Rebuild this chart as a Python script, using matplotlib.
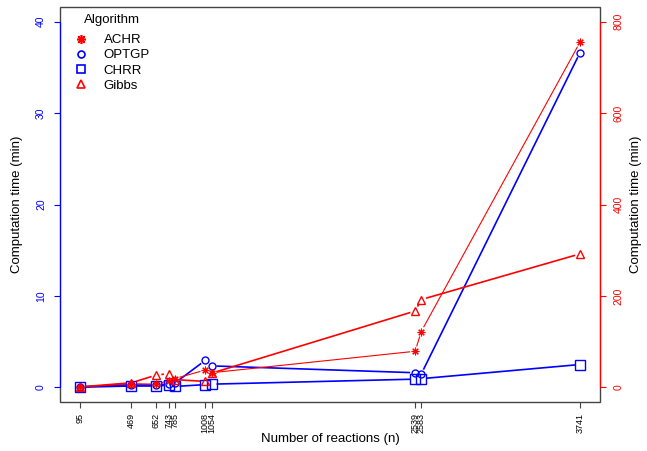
import numpy as np
import matplotlib
matplotlib.use("Agg")
import matplotlib.pyplot as plt
from matplotlib.lines import Line2D
from matplotlib.patches import Rectangle

plt.rcParams['font.family'] = ['Liberation Sans', 'DejaVu Sans']

# Number of reactions of each model (x axis).
reactions = [95, 469, 652, 743, 785, 1008, 1054, 2539, 2583, 3741]

# Computation times.
# OPTGP and CHRR on the left axis (min), ACHR and Gibbs on the right axis (min).
optgp = [0.05, 0.3, 0.3, 0.35, 0.45, 2.95, 2.35, 1.6, 1.45, 36.6]
chrr = [0.02, 0.15, 0.15, 0.25, 0.1, 0.3, 0.35, 0.9, 0.95, 2.5]
achr = [1, 8, 7, 15, 19, 38, 32, 79, 122, 755]
gibbs = [1, 10, 27, 30, 17, 13, 31, 167, 192, 292]

BLUE = "#0000ff"
RED = "#ff0000"


# R-style type="b": markers joined by lines that stop short of each marker.
def draw_b(ax, x, y, color, marker, size, lw, mew=1.0, gap=5.0):
    pts = ax.transData.transform(np.column_stack([x, y]))
    inv = ax.transData.inverted()
    for p, q in zip(pts[:-1], pts[1:]):
        d = q - p
        n = np.hypot(d[0], d[1])
        if n <= 2 * gap:
            continue
        u = d / n
        seg = inv.transform(np.array([p + u * gap, q - u * gap]))
        ax.plot(seg[:, 0], seg[:, 1], color=color, lw=lw, solid_capstyle='butt')
    ax.plot(x, y, ls='none', marker=marker, ms=size, mfc='none', mec=color, mew=mew)


fig = plt.figure(figsize=(6.47, 4.51), dpi=100)
ax = fig.add_axes([60 / 647, 1 - 402 / 451, 540 / 647, 395 / 451])
ax2 = ax.twinx()

ax.set_xlim(95 - 0.04 * (3741 - 95), 3741 + 0.04 * (3741 - 95))
ax.set_ylim(-1.6, 41.6)
ax2.set_ylim(-32, 832)

# Box around the plot, axis lines drawn over it in colour.
for s in ax.spines.values():
    s.set_visible(False)
for s in ax2.spines.values():
    s.set_visible(False)
ax.add_patch(Rectangle((0, 0), 1, 1, transform=ax.transAxes, fill=False,
                       edgecolor="#444444", lw=1.0, clip_on=False, zorder=0))
ax.spines['left'].set_visible(True)
ax.spines['left'].set_bounds(0, 40)
ax.spines['left'].set_color(BLUE)
ax2.spines['right'].set_visible(True)
ax2.spines['right'].set_bounds(0, 800)
ax2.spines['right'].set_color(RED)

draw_b(ax, reactions, chrr, BLUE, 's', 6.5, 1.2)
draw_b(ax, reactions, optgp, BLUE, 'o', 5.0, 1.2)
draw_b(ax2, reactions, gibbs, RED, '^', 6.0, 1.2)
draw_b(ax2, reactions, achr, RED, (8, 2, 0), 5.5, 0.8, mew=0.8)

ax.set_xticks(reactions)
ax.set_xticklabels([str(r) for r in reactions], rotation=90, fontsize=6.5)
ax.tick_params(axis='x', length=4, pad=4, color="#444444")
ax.set_yticks([0, 10, 20, 30, 40])
ax.tick_params(axis='y', colors=BLUE, labelsize=7.5, length=4, pad=6, labelrotation=90)
ax2.set_yticks([0, 200, 400, 600, 800])
ax2.tick_params(axis='y', colors=RED, labelsize=7.5, length=4, pad=6, labelrotation=90)
for lbl in ax.get_yticklabels() + ax2.get_yticklabels():
    lbl.set_verticalalignment('center')

ax.set_xlabel("Number of reactions (n)", fontsize=9.5)
ax.xaxis.set_label_coords(0.5, -0.078)
ax.set_ylabel("Computation time (min)", fontsize=9.5, va='center')
ax.yaxis.set_label_coords(-0.0796, 0.5)
ax2.set_ylabel("Computation time (min)", fontsize=9.5, va='center', rotation=90)
ax2.yaxis.set_label_coords(1.067, 0.5)

handles = [
    Line2D([], [], ls='none', marker=(8, 2, 0), ms=6.5, mec=RED, mfc='none', mew=1.2),
    Line2D([], [], ls='none', marker='o', ms=5.0, mec=BLUE, mfc='none', mew=1.2),
    Line2D([], [], ls='none', marker='s', ms=5.5, mec=BLUE, mfc='none', mew=1.2),
    Line2D([], [], ls='none', marker='^', ms=6.0, mec=RED, mfc='none', mew=1.2),
]
leg = ax2.legend(handles, ["ACHR", "OPTGP", "CHRR", "Gibbs"], title="Algorithm",
                 loc='upper left', bbox_to_anchor=(0.005, 1.013), frameon=False,
                 fontsize=9.5, title_fontsize=9.5, borderpad=0.4, handlelength=1.0,
                 handletextpad=1.2, labelspacing=0.22)
# a little more room between the title and the first entry
leg._legend_box.sep = 6

fig.savefig("out.png", dpi=100)
